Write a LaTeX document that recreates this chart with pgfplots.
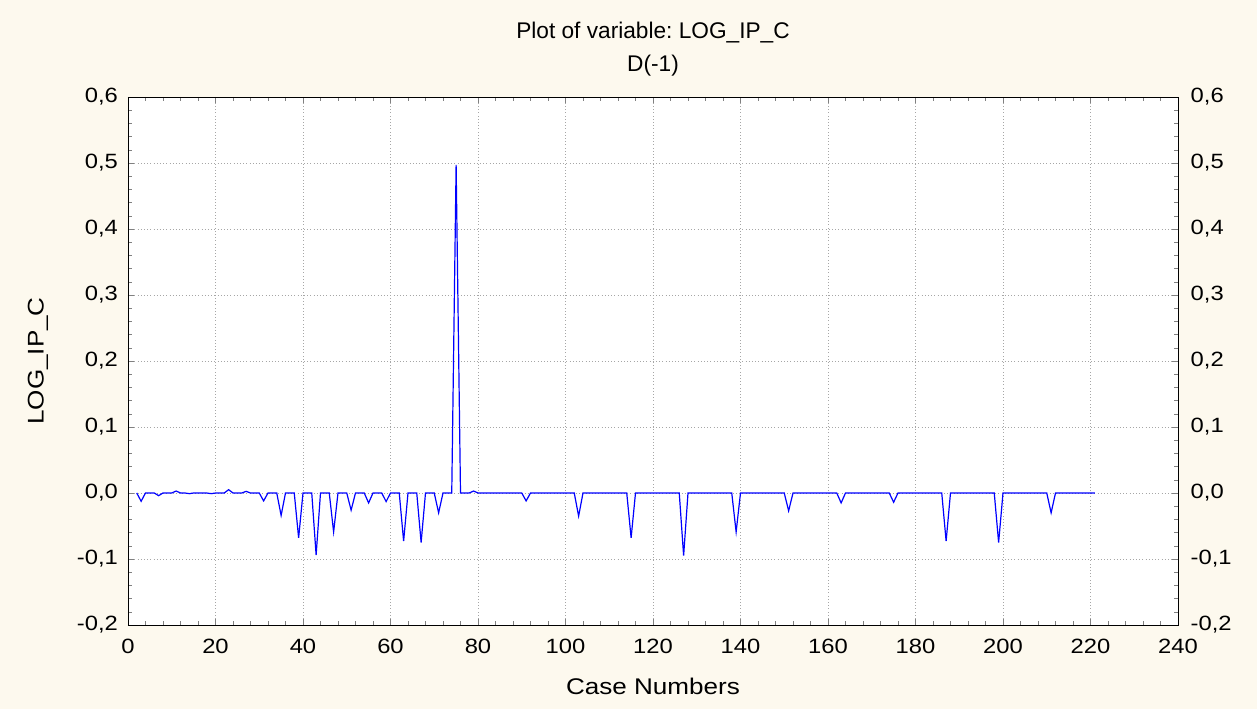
\documentclass[border=0pt]{standalone}
\usepackage{fontspec}
\setmainfont{Liberation Sans}
\newfontfamily\widefont[FakeStretch=1.15]{Liberation Sans}
\usepackage{pgfplots}
\pgfplotsset{compat=1.18}
\definecolor{paper}{RGB}{253,249,238}
\frenchspacing

\pgfplotsset{
  commonaxis/.style={
    scale only axis,
    width=787.5pt, height=396pt,
    at={(0,0)}, anchor=south west,
    xmin=0, xmax=240, ymin=-0.2, ymax=0.6,
    xtick={0,20,...,240},
    ytick={-0.2,-0.1,...,0.61},
    /pgf/number format/assume math mode=true,
    yticklabel style={/pgf/number format/fixed, /pgf/number format/fixed zerofill,
      /pgf/number format/precision=1, /pgf/number format/use comma},
    tick label style={font=\widefont\fontsize{15.5}{18}\selectfont},
  }
}

\begin{document}
\begin{tikzpicture}
\fill[paper] (-96pt,-63pt) rectangle (846.75pt,468.75pt);
\begin{axis}[
  commonaxis,
  axis background/.style={fill=white},
  tick align=inside,
  minor x tick num=4,
  minor y tick num=4,
  xtick pos=both, ytick pos=both,
  xticklabel pos=lower, yticklabel pos=left,
  xticklabel style={yshift=-7pt},
  yticklabel style={xshift=-4pt},
  grid=major,
  grid style={dotted, gray!70},
  axis line style={black},
  title={Plot of variable: LOG\_IP\_C\\D(-1)},
  title style={align=center, at={(axis description cs:0.5,1.0758)}, anchor=center,
    font=\fontsize{17}{24.5}\selectfont},
  xlabel={Case Numbers},
  xlabel style={at={(axis description cs:0.5,-0.1155)}, anchor=center,
    font=\widefont\fontsize{17}{20}\selectfont},
  ylabel={LOG\_IP\_C},
  ylabel style={at={(axis description cs:-0.0857,0.5)}, anchor=center,
    font=\widefont\fontsize{17}{20}\selectfont},
]
\addplot[blue, line width=0.9pt, mark=none] coordinates {
  (2,0)(3,-0.0125)(4,0)(5,0)(6,0)(7,-0.004)(8,0)(9,0)(10,0)(11,0.003)
  (12,0)(13,0)(14,-0.001)(15,0)(16,0)(17,0)(18,0)(19,-0.001)(20,0)(21,0)
  (22,0)(23,0.005)(24,0)(25,0)(26,0)(27,0.0025)(28,0)(29,0)(30,0)(31,-0.012)
  (32,0)(33,0)(34,0)(35,-0.034)(36,0)(37,0)(38,0)(39,-0.068)(40,0)(41,0)
  (42,0)(43,-0.094)(44,0)(45,0)(46,0)(47,-0.059)(48,0)(49,0)(50,0)(51,-0.026)
  (52,0)(53,0)(54,0)(55,-0.015)(56,0)(57,0)(58,0)(59,-0.013)(60,0)(61,0)
  (62,0)(63,-0.073)(64,0)(65,0)(66,0)(67,-0.075)(68,0)(69,0)(70,0)(71,-0.030)
  (72,0)(73,0)(74,0)(75,0.497)(76,0)(77,0)(78,0)(79,0.003)(80,0)(81,0)
  (82,0)(83,0)(84,0)(85,0)(86,0)(87,0)(88,0)(89,0)(90,0)(91,-0.012)
  (92,0)(93,0)(94,0)(95,0)(96,0)(97,0)(98,0)(99,0)(100,0)(101,0)
  (102,0)(103,-0.035)(104,0)(105,0)(106,0)(107,0)(108,0)(109,0)(110,0)(111,0)
  (112,0)(113,0)(114,0)(115,-0.068)(116,0)(117,0)(118,0)(119,0)(120,0)(121,0)
  (122,0)(123,0)(124,0)(125,0)(126,0)(127,-0.095)(128,0)(129,0)(130,0)(131,0)
  (132,0)(133,0)(134,0)(135,0)(136,0)(137,0)(138,0)(139,-0.059)(140,0)(141,0)
  (142,0)(143,0)(144,0)(145,0)(146,0)(147,0)(148,0)(149,0)(150,0)(151,-0.027)
  (152,0)(153,0)(154,0)(155,0)(156,0)(157,0)(158,0)(159,0)(160,0)(161,0)
  (162,0)(163,-0.015)(164,0)(165,0)(166,0)(167,0)(168,0)(169,0)(170,0)(171,0)
  (172,0)(173,0)(174,0)(175,-0.014)(176,0)(177,0)(178,0)(179,0)(180,0)(181,0)
  (182,0)(183,0)(184,0)(185,0)(186,0)(187,-0.073)(188,0)(189,0)(190,0)(191,0)
  (192,0)(193,0)(194,0)(195,0)(196,0)(197,0)(198,0)(199,-0.075)(200,0)(201,0)
  (202,0)(203,0)(204,0)(205,0)(206,0)(207,0)(208,0)(209,0)(210,0)(211,-0.030)
  (212,0)(213,0)(214,0)(215,0)(216,0)(217,0)(218,0)(219,0)(220,0)(221,0)
};
\end{axis}
% right-hand tick labels
\begin{axis}[
  commonaxis,
  hide x axis,
  axis line style={draw=none},
  major tick length=0pt,
  minor tick num=0,
  ytick pos=right, yticklabel pos=right,
  yticklabel style={xshift=6pt},
]
\end{axis}
\end{tikzpicture}
\end{document}
